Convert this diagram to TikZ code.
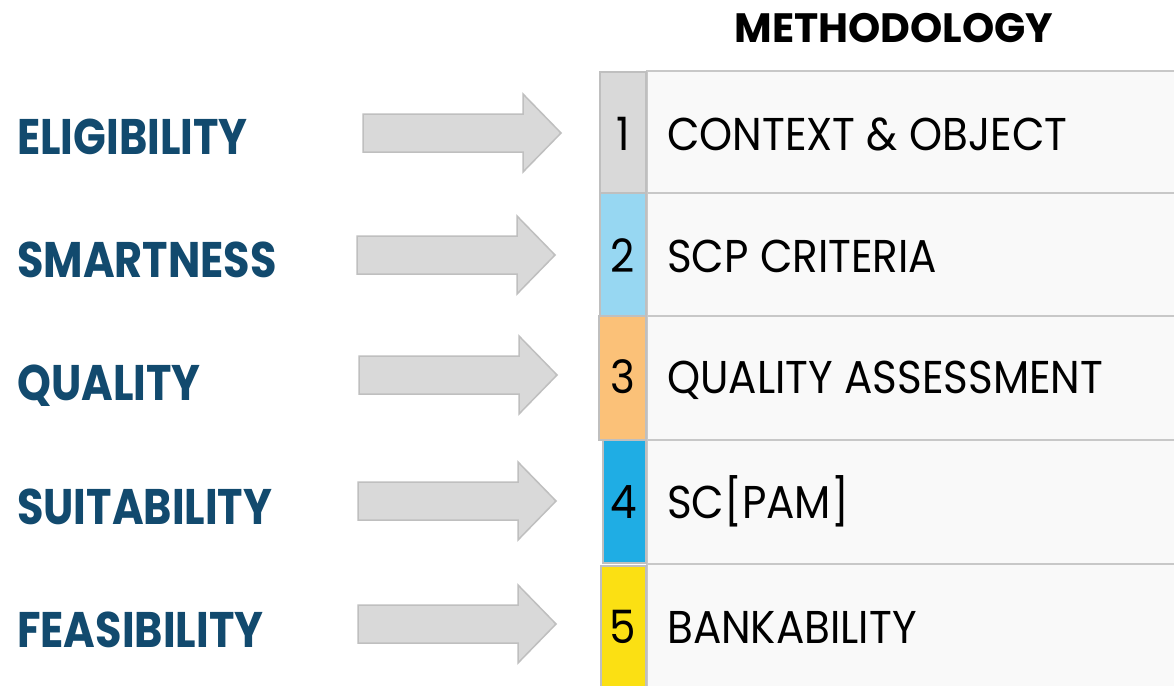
\documentclass[tikz,border=0pt]{standalone}
\usepackage{fontspec}
\setmainfont{Poppins}
\newfontfamily\lblfont[FakeStretch=0.86]{Poppins}
\newfontfamily\cellfont[FakeStretch=0.915]{Poppins}
\definecolor{navy}{HTML}{124A6E}
\definecolor{arrowfill}{HTML}{D9D9D9}
\definecolor{arrowline}{HTML}{BFBFBF}
\definecolor{cellfill}{HTML}{F9F9F9}
\definecolor{cellline}{HTML}{C8C8C8}
\definecolor{cgray}{HTML}{D9D9D9}
\definecolor{clblue}{HTML}{97D7F2}
\definecolor{corange}{HTML}{FBC178}
\definecolor{cblue}{HTML}{1FADE4}
\definecolor{cyellow}{HTML}{FBE013}
\tikzset{
  blockarrow/.pic={
    \fill[arrowfill,draw=arrowline,line width=1.5pt]
      (0,-19) -- (160,-19) -- (160,-39) -- (198,0) -- (160,39) -- (160,19) -- (0,19) -- cycle;
  },
  numcell/.style={draw=arrowline,line width=1.5pt},
  txtcell/.style={fill=cellfill,draw=cellline,line width=1.5pt},
  lefttxt/.style={anchor=base west,inner sep=0pt,text=navy,font=\lblfont\fontsize{50}{50}\selectfont\bfseries},
  numtxt/.style={anchor=base,inner sep=0pt,font=\cellfont\fontsize{46}{46}\selectfont},
  celltxt/.style={anchor=base west,inner sep=0pt,font=\cellfont\fontsize{46}{46}\selectfont},
}
\begin{document}
\begin{tikzpicture}[x=1pt,y=-1pt]
\useasboundingbox (0,0) rectangle (1174,685);
\fill[white] (0,0) rectangle (1174,685);
% text cells
\draw[txtcell] (647,71) rectangle (1176,193);
\draw[txtcell] (647,193) rectangle (1176,316);
\draw[txtcell] (647,316) rectangle (1176,440);
\draw[txtcell] (647,440) rectangle (1176,564);
\draw[txtcell] (647,564) rectangle (1176,688);
% number cells
\draw[numcell,fill=cgray] (600,72) rectangle (646,193);
\draw[numcell,fill=clblue] (600,193) rectangle (646,316);
\draw[numcell,fill=corange] (599,316) rectangle (646,440);
\draw[numcell,fill=cblue] (603,440) rectangle (646,563);
\draw[numcell,fill=cyellow] (601,566) rectangle (646,688);
% arrows
\pic at (363,133) {blockarrow};
\pic at (357,255) {blockarrow};
\pic at (359,375) {blockarrow};
\pic at (358,501) {blockarrow};
\pic at (358,624) {blockarrow};
% title
\node[anchor=base,inner sep=0pt,font=\fontsize{41}{41}\selectfont\bfseries] (title) at (894,43) {METHODOLOGY};
% left labels
\node[lefttxt] (l1) at (17,154) {ELIGIBILITY};
\node[lefttxt] (l2) at (17,277) {SMARTNESS};
\node[lefttxt] (l3) at (17,400) {QUALITY};
\node[lefttxt] (l4) at (17,524) {SUITABILITY};
\node[lefttxt] (l5) at (17,647) {FEASIBILITY};
% numbers
\node[numtxt] (n1) at (623,150) {1};
\node[numtxt] (n2) at (623,272) {2};
\node[numtxt] (n3) at (623,393) {3};
\node[numtxt] (n4) at (624,518) {4};
\node[numtxt] (n5) at (623,643) {5};
% cell texts
\node[celltxt] (t1) at (667,150) {CONTEXT \& OBJECT};
\node[celltxt] (t2) at (667,272) {SCP CRITERIA};
\node[celltxt] (t3) at (667,393) {QUALITY ASSESSMENT};
\node[celltxt] (t4) at (667,518) {SC[PAM]};
\node[celltxt] (t5) at (667,643) {BANKABILITY};
\end{tikzpicture}
\end{document}
